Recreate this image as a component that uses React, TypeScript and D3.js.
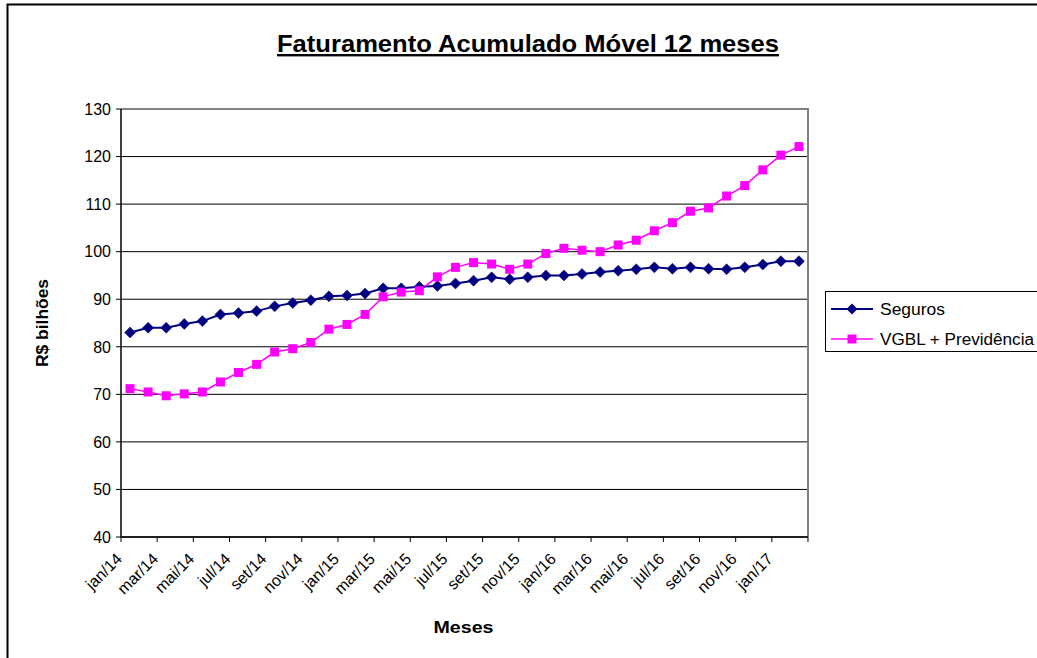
import React from "react";
import * as d3 from "d3";

const months: string[] = [
  "jan/14","fev/14","mar/14","abr/14","mai/14","jun/14","jul/14","ago/14","set/14","out/14","nov/14","dez/14",
  "jan/15","fev/15","mar/15","abr/15","mai/15","jun/15","jul/15","ago/15","set/15","out/15","nov/15","dez/15",
  "jan/16","fev/16","mar/16","abr/16","mai/16","jun/16","jul/16","ago/16","set/16","out/16","nov/16","dez/16",
  "jan/17","fev/17",
];

const seguros: number[] = [
  83.0, 84.0, 84.0, 84.8, 85.4, 86.8, 87.1, 87.5, 88.5, 89.2,
  89.8, 90.6, 90.8, 91.2, 92.3, 92.3, 92.6, 92.8, 93.3, 93.9,
  94.6, 94.2, 94.6, 95.0, 95.0, 95.3, 95.7, 96.0, 96.3, 96.7,
  96.4, 96.7, 96.4, 96.3, 96.7, 97.3, 98.0, 98.0,
];

const vgbl: number[] = [
  71.2, 70.5, 69.7, 70.1, 70.5, 72.6, 74.6, 76.3, 78.9, 79.6,
  80.9, 83.7, 84.7, 86.8, 90.5, 91.5, 91.8, 94.7, 96.7, 97.7,
  97.4, 96.3, 97.4, 99.6, 100.7, 100.3, 100.0, 101.4, 102.4, 104.4,
  106.1, 108.5, 109.2, 111.7, 113.9, 117.2, 120.3, 122.1,
];

const yTicks: number[] = [40, 50, 60, 70, 80, 90, 100, 110, 120, 130];
const seriesNames: string[] = ["Seguros", "VGBL + Previdência"];
const title = "Faturamento Acumulado Móvel 12 meses";

const W = 1037;
const H = 658;
const PL = 121, PR = 808, PT = 109, PB = 537;
const NAVY = "#000080";
const MAG = "#FF00FF";
const FONT = "'Liberation Sans', Arial, sans-serif";

export default function App() {
  const x = d3.scaleBand<string>().domain(months).range([PL, PR]).paddingInner(0).paddingOuter(0);
  const bw = x.bandwidth();
  const cx = (i: number) => (x(months[i]) as number) + bw / 2;
  const y = d3.scaleLinear().domain([40, 130]).range([PB, PT]);

  const line = d3.line<number>().x((_, i) => cx(i)).y((d) => y(d));

  const diamond = (px: number, py: number, r: number) =>
    `M${px},${py - r}L${px + r},${py}L${px},${py + r}L${px - r},${py}Z`;

  const tickIdx = d3.range(0, months.length + 1, 2);
  const labelIdx = d3.range(0, months.length, 2);

  return (
    <svg width={W} height={H} style={{ position: "absolute", left: 0, top: 0, background: "#fff" }} fontFamily={FONT}>
      <rect x={0} y={0} width={W} height={H} fill="#fff" />
      {/* outer frame */}
      <rect x={7.5} y={4.5} width={1200} height={800} fill="none" stroke="#000" strokeWidth={2} />

      {/* title */}
      <text x={528} y={52} textAnchor="middle" fontSize={24} fontWeight="bold" textDecoration="underline"
        textLength={502} lengthAdjust="spacingAndGlyphs">{title}</text>

      {/* gridlines */}
      {yTicks.map((t) => (
        <line key={"g" + t} x1={PL} x2={PR} y1={y(t)} y2={y(t)} stroke="#000" strokeWidth={1} />
      ))}
      {/* plot border top/right */}
      <path d={`M${PL},${PT}H${PR}V${PB}`} fill="none" stroke="#808080" strokeWidth={2} />

      {/* y axis */}
      <line x1={PL} x2={PL} y1={PT} y2={PB} stroke="#000" strokeWidth={1.5} />
      {yTicks.map((t) => (
        <g key={"yt" + t}>
          <line x1={PL - 5} x2={PL} y1={y(t)} y2={y(t)} stroke="#000" strokeWidth={1} />
          <text x={PL - 10} y={y(t)} dy="0.36em" textAnchor="end" fontSize={16}>{t}</text>
        </g>
      ))}
      <text transform={`translate(48,${(PT + PB) / 2}) rotate(-90)`} textAnchor="middle" fontSize={16} fontWeight="bold"
        textLength={88} lengthAdjust="spacingAndGlyphs">R$ bilhões</text>

      {/* x axis */}
      <line x1={PL} x2={PR} y1={PB} y2={PB} stroke="#000" strokeWidth={1.5} />
      {tickIdx.map((i) => {
        const tx = PL + i * bw;
        return <line key={"xt" + i} x1={tx} x2={tx} y1={PB} y2={PB + 5} stroke="#000" strokeWidth={1} />;
      })}
      {labelIdx.map((i) => (
        <text key={"xl" + i} transform={`translate(${cx(i) - 7},${PB + 23}) rotate(-45)`} textAnchor="end" fontSize={16}>
          {months[i]}
        </text>
      ))}
      <text x={(PL + PR) / 2 - 1} y={633} textAnchor="middle" fontSize={16} fontWeight="bold"
        textLength={60} lengthAdjust="spacingAndGlyphs">Meses</text>

      {/* series */}
      <path d={line(seguros) as string} fill="none" stroke={NAVY} strokeWidth={2} />
      <path d={line(vgbl) as string} fill="none" stroke={MAG} strokeWidth={1.5} />
      {seguros.map((v, i) => (
        <path key={"s" + i} d={diamond(cx(i), y(v), 5.5)} fill={NAVY} stroke={NAVY} strokeWidth={0.5} />
      ))}
      {vgbl.map((v, i) => (
        <rect key={"v" + i} x={cx(i) - 4.5} y={y(v) - 4.5} width={9} height={9} fill={MAG} />
      ))}

      {/* legend */}
      <rect x={825.5} y={291.5} width={230} height={60} fill="#fff" stroke="#000" strokeWidth={1} />
      <line x1={831} x2={873} y1={309} y2={309} stroke={NAVY} strokeWidth={2} />
      <path d={diamond(852, 309, 5.5)} fill={NAVY} />
      <text x={880} y={309} dy="0.36em" fontSize={16} textLength={65} lengthAdjust="spacingAndGlyphs">{seriesNames[0]}</text>
      <line x1={831} x2={873} y1={339} y2={339} stroke={MAG} strokeWidth={1.5} />
      <rect x={847.5} y={334.5} width={9} height={9} fill={MAG} />
      <text x={880} y={339} dy="0.36em" fontSize={16} textLength={154} lengthAdjust="spacingAndGlyphs">{seriesNames[1]}</text>
    </svg>
  );
}
